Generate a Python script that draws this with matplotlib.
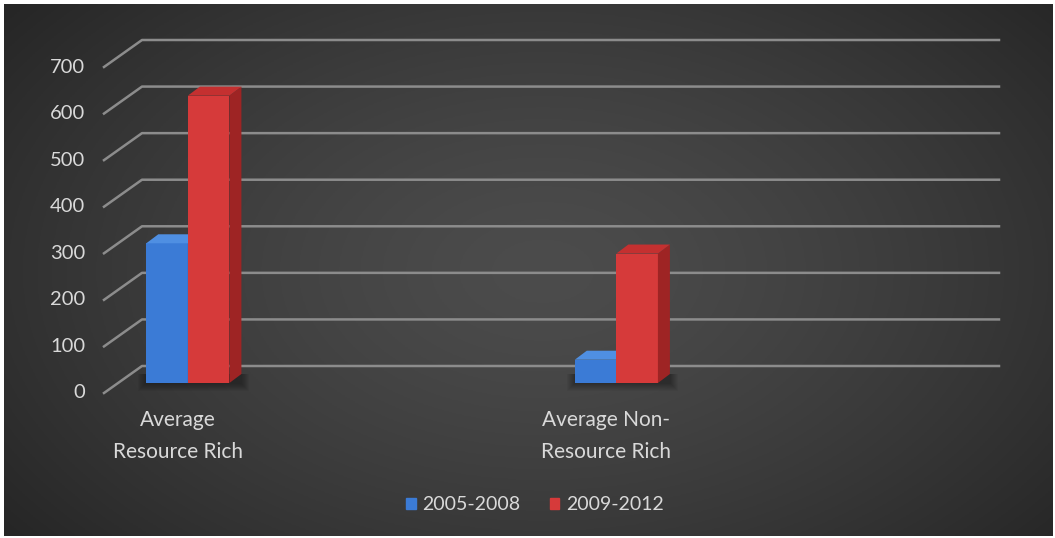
import numpy as np
import matplotlib
matplotlib.use('Agg')
import matplotlib.pyplot as plt
from matplotlib.patches import Polygon, Patch
from matplotlib.transforms import IdentityTransform

# Data
categories = ['Average\nResource Rich', 'Average Non-\nResource Rich']
series_names = ['2005-2008', '2009-2012']
vals_0508 = [300, 50]
vals_0912 = [617, 278]
yticks = [0, 100, 200, 300, 400, 500, 600, 700]

plt.rcParams['font.family'] = ['Lato', 'DejaVu Sans']
txt_color = '#d9d9d9'
grid_color = '#8c8c8c'
blue = {'front': '#3b7bd6', 'side': '#28579e', 'top': '#4f8fe2'}
red = {'front': '#d63a3a', 'side': '#9e2424', 'top': '#c43030'}

W, H = 1055, 538
fig = plt.figure(figsize=(W / 100, H / 100), dpi=100, facecolor='white')

# dark radial background
bg = fig.add_axes([4 / W, 2 / H, (W - 6) / W, (H - 6) / H])
yy, xx = np.mgrid[0:200, 0:400]
r = np.sqrt(((xx - 205) / 260) ** 2 + ((yy - 100) / 160) ** 2)
g = 76 - 38 * np.clip(r, 0, 1) ** 1.4
bg.imshow(np.dstack([g, g, g]) / 255, aspect='auto', extent=[0, 1, 0, 1])
bg.axis('off')

# main axes = front plane of the bars
ax = fig.add_axes([118 / W, 155 / H, 857 / W, 326 / H])
ax.patch.set_alpha(0)
ax.axis('off')

x = np.arange(len(categories))
w = 0.097
b1 = ax.bar(x - w / 2, vals_0508, w, color=blue['front'], zorder=1)
b2 = ax.bar(x + w / 2, vals_0912, w, color=red['front'], zorder=2)
ax.set_xlim(-0.163, 1.837)
ax.set_ylim(0, 700)

# pixel offsets for the fake 3D planes
wall = np.array([24, 17])
front = np.array([-14, -10])
depth = np.array([12, 9])
ident = IdentityTransform()

# back wall gridlines and left diagonals
xl0, xl1 = ax.get_xlim()
for v in yticks:
    pl = ax.transData.transform((xl0, v))
    pr = ax.transData.transform((xl1, v))
    pts = np.array([pl + front, pl + wall, pr + wall])
    ax.plot(pts[:, 0], pts[:, 1], color=grid_color, lw=1.8,
            transform=ident, clip_on=False, zorder=0.5)
    ax.text(pts[0, 0] - 19, pts[0, 1], str(v), transform=ident,
            ha='right', va='center', fontsize=14.5, color=txt_color)

# soft shadows on the floor
for i in range(len(categories)):
    p0 = ax.transData.transform((x[i] - w, 0))
    p1 = ax.transData.transform((x[i] + w, 0))
    for k in range(1, 9):
        poly = [(p0[0] - k, p0[1] - k), (p1[0] + depth[0] + k, p1[1] - k),
                (p1[0] + depth[0] + k, p1[1] + depth[1]), (p0[0] - k, p0[1] + depth[1])]
        ax.add_patch(Polygon(poly, closed=True, facecolor='black', alpha=0.045,
                             edgecolor='none', transform=ident, clip_on=False, zorder=0.8))


def add_depth(bars, cols, z):
    for b in bars:
        x0, y0 = b.get_x(), b.get_y()
        x1, y1 = x0 + b.get_width(), y0 + b.get_height()
        (px0, py0), (px1, py1) = ax.transData.transform([(x0, y0), (x1, y1)])
        side = [(px1, py0), (px1, py1), (px1 + depth[0], py1 + depth[1]), (px1 + depth[0], py0 + depth[1])]
        top = [(px0, py1), (px1, py1), (px1 + depth[0], py1 + depth[1]), (px0 + depth[0], py1 + depth[1])]
        ax.add_patch(Polygon(side, closed=True, facecolor=cols['side'], edgecolor='none',
                             transform=ident, clip_on=False, zorder=z))
        ax.add_patch(Polygon(top, closed=True, facecolor=cols['top'], edgecolor='none',
                             transform=ident, clip_on=False, zorder=z))


add_depth(b1, blue, 1)
add_depth(b2, red, 2)

# category labels
for i, c in enumerate(categories):
    p = ax.transData.transform((x[i], 0))
    ax.text(p[0] - 10, p[1] - 27, c, transform=ident, ha='center', va='top',
            fontsize=15, color=txt_color, linespacing=1.75, multialignment='center')

handles = [Patch(color=blue['front']), Patch(color=red['front'])]
fig.legend(handles, series_names, loc='center', bbox_to_anchor=(535 / W, 33 / H),
           ncol=2, frameon=False, fontsize=14, labelcolor=txt_color,
           handlelength=0.5, handleheight=0.5, handletextpad=0.35, columnspacing=1.5)

fig.savefig('out.png', dpi=100, facecolor='white')
